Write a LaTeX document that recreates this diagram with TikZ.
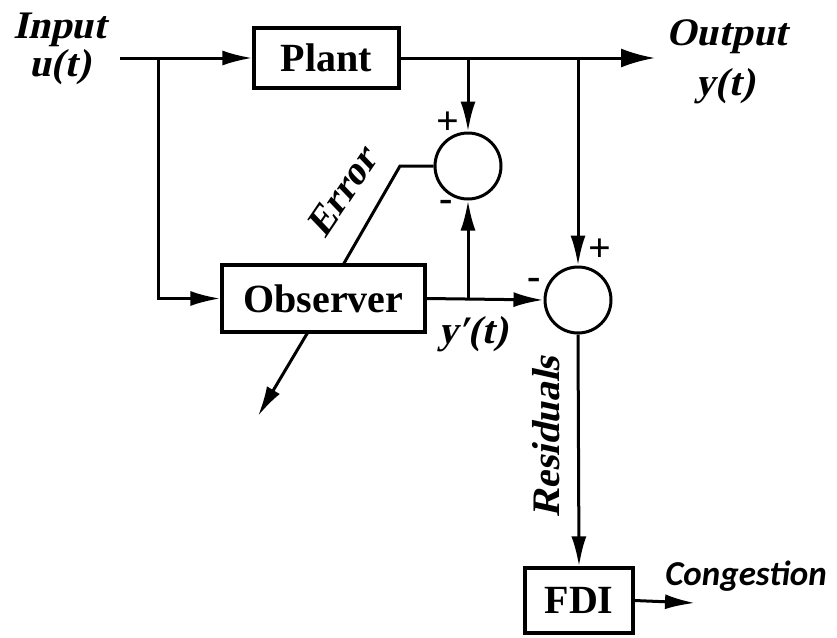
\documentclass[tikz,border=0pt]{standalone}
\usepackage{fontspec}
\setmainfont{Liberation Serif}
\newfontfamily\bifont{Liberation Serif}[FakeSlant=0.22]
\newfontfamily\calfont{Carlito}
\usetikzlibrary{arrows.meta,calc}
\begin{document}
\begin{tikzpicture}[x=1pt,y=-1pt,
  line width=3pt,
  blk/.style={draw,line width=3.2pt,inner sep=0pt,font=\fontsize{40}{42}\selectfont\bfseries},
  sumc/.style={draw,circle,line width=3pt,minimum size=66pt,inner sep=0pt},
  lbl/.style={font=\fontsize{39}{42}\selectfont\bifont\bfseries,inner sep=0pt},
  sgn/.style={font=\fontsize{40}{42}\selectfont\bfseries,inner sep=0pt},
  arr/.style={-{Latex[length=30pt,width=15pt]}}]
\useasboundingbox (0,0) rectangle (837,637);
% blocks
\node[blk,minimum width=145pt,minimum height=60pt] (plant) at (326.5,58) {Plant};
\node[blk,minimum width=203pt,minimum height=67pt] (obs) at (323.5,298.5) {Observer};
\node[sumc] (c1) at (468,166) {};
\node[sumc] (c2) at (578,300) {};
\node[blk,minimum width=108pt,minimum height=65pt] (fdi) at (579,600.5) {FDI};
% coordinates
\coordinate (uin) at (120,58);
\coordinate (bu) at (158,58);
\coordinate (yout) at (655,58);
\coordinate (by1) at (468,58);
\coordinate (by2) at (578,58);
\coordinate (byp) at (468,298.5);
\coordinate (ebend) at (400,166);
\coordinate (eobs) at (343,265);
\coordinate (ofree) at (258,416);
\coordinate (cong) at (695,603);
% connectors
\draw[arr] (uin) -- (plant.west);
\draw[arr] (bu) |- (obs.west);
\draw[-{Latex[length=34pt,width=19pt]}] (plant.east) -- (yout);
\draw[arr] (by1) -- (c1.north);
\draw[arr] (by2) -- (c2.north);
\draw[arr] (obs.east) -- (c2.west);
\draw[arr] (byp) -- (c1.south);
\draw (c1.west) -- (ebend) -- (eobs);
\draw[arr] (308,332) -- (ofree);
\draw[arr] (c2.south) -- (fdi.north);
\draw[arr] (fdi.east) -- (cong);
% labels
\node[lbl] (tin) at (60,30) {Input};
\node[lbl] (tu) at (60,67) {u(t)};
\node[lbl] (tout) at (727,37) {Output};
\node[lbl] (ty) at (725,86) {y(t)};
\node[lbl,rotate=56] (terr) at (342,192) {Error};
\node[lbl] (typ) at (473,334) {y′(t)};
\node[lbl,rotate=90] (tres) at (546,437) {Residuals};
\node[font=\fontsize{35}{37}\selectfont\calfont\bfseries\itshape,inner sep=0pt] (tcong) at (746,576) {Congestion};
\node[sgn] (p1) at (448,123) {+};
\node[sgn] (m1) at (446,206) {-};
\node[sgn] (p2) at (600,250) {+};
\node[sgn] (m2) at (534,284) {-};
\end{tikzpicture}
\end{document}
